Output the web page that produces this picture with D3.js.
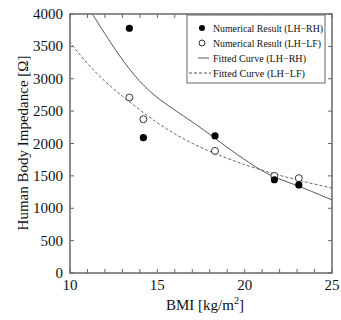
<!DOCTYPE html>
<html><head><meta charset="utf-8">
<script src="https://cdn.jsdelivr.net/npm/d3@7"></script>
<style>body{margin:0;background:#fff}svg{display:block}text{font-family:"Liberation Serif","Times New Roman",serif}</style>
</head><body>
<svg id="c" width="341" height="320"></svg>
<script>
// Data
const bmiRH = [13.4, 14.2, 18.3, 21.7, 23.1];
const zRH   = [3780, 2090, 2120, 1440, 1360];
const bmiLF = [13.4, 14.2, 18.3, 21.7, 23.1];
const zLF   = [2710, 2375, 1885, 1500, 1465];
// fitted curves (control points)
const fitRHx = [11.0, 12.4, 13.4, 14.5, 15.9, 17.1, 18.3, 19.6, 20.9, 21.7, 23.1, 25.0, 25.4];
const fitRHy = [4120, 3520, 3140, 2800, 2530, 2320, 2080, 1820, 1590, 1475, 1345, 1127, 1085];
const fitLFx = [9.8, 10, 11, 12, 13, 14, 15, 16, 17, 18, 19, 20, 21, 22, 23, 24, 25, 25.2];
const fitLFy = [3640, 3560, 3225, 2955, 2730, 2515, 2315, 2145, 2000, 1877, 1769, 1672, 1586, 1508, 1438, 1372, 1312, 1300];
const xTicks = [10, 15, 20, 25];
const yTicks = [0, 500, 1000, 1500, 2000, 2500, 3000, 3500, 4000];
const legendLabels = ["Numerical Result (LH\u2212RH)", "Numerical Result (LH\u2212LF)", "Fitted Curve (LH\u2212RH)", "Fitted Curve (LH\u2212LF)"];

const svg = d3.select("#c");
const L = 70, R = 332, T = 14, B = 273;
const x = d3.scaleLinear().domain([10, 25]).range([L, R]);
const y = d3.scaleLinear().domain([0, 4000]).range([B, T]);
const axisCol = "#666";

svg.append("clipPath").attr("id", "clip").append("rect").attr("x", L).attr("y", T).attr("width", R - L).attr("height", B - T);

// ticks (inward)
const minorX = d3.range(10, 25.01, 1);
const g = svg.append("g");
minorX.forEach(v => {
  g.append("line").attr("x1", x(v)).attr("x2", x(v)).attr("y1", B).attr("y2", B - 4).attr("stroke", axisCol);
  g.append("line").attr("x1", x(v)).attr("x2", x(v)).attr("y1", T).attr("y2", T + 4).attr("stroke", axisCol);
});
yTicks.forEach(v => {
  g.append("line").attr("x1", L).attr("x2", L + 4).attr("y1", y(v)).attr("y2", y(v)).attr("stroke", axisCol);
  g.append("line").attr("x1", R).attr("x2", R - 4).attr("y1", y(v)).attr("y2", y(v)).attr("stroke", axisCol);
});

// curves
const line = d3.line().x(d => x(d[0])).y(d => y(d[1])).curve(d3.curveBasis);
svg.append("path").datum(fitRHx.map((v, i) => [v, fitRHy[i]])).attr("d", line)
  .attr("fill", "none").attr("stroke", "#555").attr("stroke-width", 1).attr("clip-path", "url(#clip)");
svg.append("path").datum(fitLFx.map((v, i) => [v, fitLFy[i]])).attr("d", line)
  .attr("fill", "none").attr("stroke", "#666").attr("stroke-width", 1).attr("stroke-dasharray", "3,2").attr("clip-path", "url(#clip)");

// points
svg.append("g").selectAll("circle").data(bmiLF.map((v, i) => [v, zLF[i]])).join("circle")
  .attr("cx", d => x(d[0])).attr("cy", d => y(d[1])).attr("r", 3.5)
  .attr("fill", "#fff").attr("stroke", "#333").attr("stroke-width", 1);
svg.append("g").selectAll("circle").data(bmiRH.map((v, i) => [v, zRH[i]])).join("circle")
  .attr("cx", d => x(d[0])).attr("cy", d => y(d[1])).attr("r", 3.6)
  .attr("fill", "#000");

// frame
svg.append("rect").attr("x", L).attr("y", T).attr("width", R - L).attr("height", B - T)
  .attr("fill", "none").attr("stroke", axisCol).attr("stroke-width", 1.5);

// tick labels
svg.append("g").selectAll("text").data(xTicks).join("text")
  .attr("x", d => x(d)).attr("y", 290).attr("text-anchor", "middle")
  .attr("font-size", 15).attr("fill", "#111").text(d => d);
svg.append("g").selectAll("text").data(yTicks).join("text")
  .attr("x", 63).attr("y", d => y(d) + 5).attr("text-anchor", "end")
  .attr("font-size", 15).attr("fill", "#111").text(d => d);

// axis titles
const xt = svg.append("text").attr("x", 205).attr("y", 310).attr("text-anchor", "middle")
  .attr("font-size", 15).attr("fill", "#111");
xt.append("tspan").text("BMI [kg/m");
xt.append("tspan").attr("font-size", 10).attr("dy", -6).text("2");
xt.append("tspan").attr("dy", 6).text("]");
svg.append("text").attr("transform", "translate(28,143) rotate(-90)").attr("text-anchor", "middle")
  .attr("font-size", 15).attr("fill", "#111").text("Human Body Impedance [\u03A9]");

// legend
const lg = svg.append("g");
lg.append("rect").attr("x", 187).attr("y", 15).attr("width", 138).attr("height", 68)
  .attr("fill", "#fff").attr("stroke", "#666").attr("stroke-width", 1);
const rows = [28, 43, 58, 73];
lg.append("circle").attr("cx", 202).attr("cy", rows[0]).attr("r", 3).attr("fill", "#000");
lg.append("circle").attr("cx", 202).attr("cy", rows[1]).attr("r", 3).attr("fill", "#fff").attr("stroke", "#333");
lg.append("line").attr("x1", 198).attr("x2", 209).attr("y1", rows[2]).attr("y2", rows[2]).attr("stroke", "#555");
lg.append("line").attr("x1", 189).attr("x2", 211).attr("y1", rows[3]).attr("y2", rows[3]).attr("stroke", "#555").attr("stroke-dasharray", "3,2");
lg.selectAll("text.l").data(legendLabels).join("text").attr("class", "l")
  .attr("x", 213).attr("y", (d, i) => rows[i] + 3.5).attr("font-size", 9.5).attr("fill", "#111")
  .attr("textLength", (d, i) => [110, 108, 93, 92][i]).attr("lengthAdjust", "spacingAndGlyphs")
  .text(d => d);
</script>
</body></html>
